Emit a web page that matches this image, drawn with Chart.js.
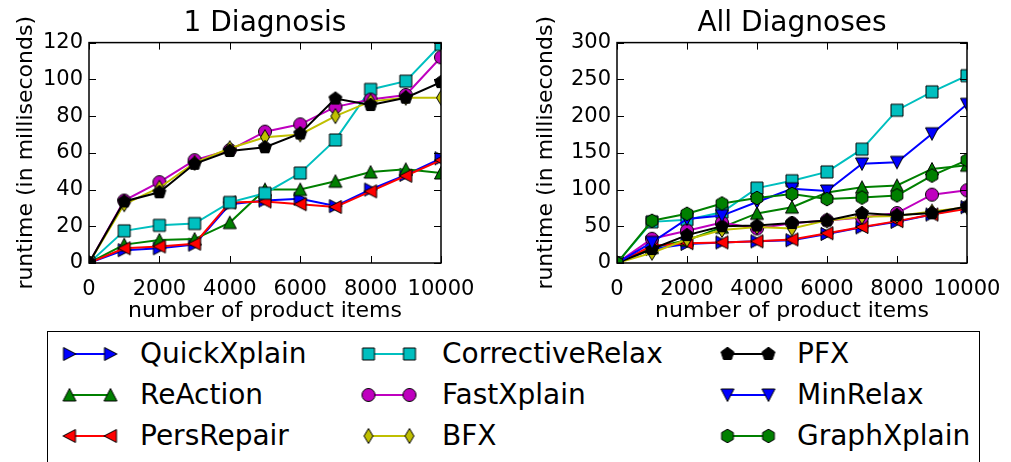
<!DOCTYPE html>
<html>
<head>
<meta charset="utf-8">
<script src="https://cdn.jsdelivr.net/npm/chart.js@4/dist/chart.umd.min.js"></script>
<style>
body { margin:0; background:#fff; width:1011px; height:462px; overflow:hidden; position:relative; font-family:'DejaVu Sans', sans-serif; }
canvas.plot { position:absolute; top:0; }
#legendBox { position:absolute; left:47px; top:331px; width:933px; height:140px; border:1.5px solid #000; box-sizing:border-box; }
.lgMark { position:absolute; }
.lgText { position:absolute; font-size:28px; line-height:32px; white-space:nowrap; color:#000; }
</style>
</head>
<body>
<canvas id="diagOne" class="plot" width="495" height="330" style="left:0"></canvas>
<canvas id="diagAll" class="plot" width="506" height="330" style="left:505px"></canvas>
<div id="legendBox"></div>
<script>
// number of product items
var xValues = [0, 1000, 2000, 3000, 4000, 5000, 6000, 7000, 8000, 9000, 10000];

// 1 Diagnosis (ms)
var oneQuickXplain     = [0, 7, 8, 10, 32, 34, 35, 31, 40, 48, 57];
var oneReAction        = [0, 10, 12.5, 13, 22, 40, 40, 44.5, 49.5, 51, 49];
var onePersRepair      = [0, 8, 9, 10.5, 33, 33.5, 32, 30.5, 39, 47.5, 56];
var oneCorrectiveRelax = [0, 17.5, 20.5, 21.5, 33, 38, 49, 67, 94.5, 99, 119];
var oneFastXplain      = [0, 34, 44, 56, 61.5, 71.5, 75.5, 85, 89, 91.5, 112];
var oneBFX             = [0, 32, 41, 54.5, 62.5, 68.5, 70, 80, 88, 90, 90];
var onePFX             = [0, 33.5, 38.5, 54, 61, 63, 70.5, 89.5, 86, 90, 98.5];

// All Diagnoses (ms)
var allQuickXplain     = [0, 19, 26, 28, 29.5, 31, 39.5, 48.5, 56, 66, 76];
var allReAction        = [0, 21, 31, 48.5, 67.5, 76, 96, 103, 105.5, 128, 133];
var allPersRepair      = [0, 23.5, 27, 28, 29.5, 32, 40.5, 49, 57, 66, 74];
var allCorrectiveRelax = [0, 56, 59, 69, 102, 112, 124, 155, 208, 233, 255];
var allFastXplain      = [0, 33, 44, 55, 47, 54, 58, 62, 68, 93, 99];
var allBFX             = [0, 14, 32, 45, 49, 47, 58, 63, 64, 70, 76];
var allPFX             = [0, 19, 38, 50, 51, 54.5, 58, 68, 65, 68, 77];
var allMinRelax        = [0, 28, 60, 64.5, 83, 101, 98, 135, 137, 176, 216];
var allGraphXplain     = [0, 57.5, 67, 81, 88.5, 94, 87, 89, 92, 119, 140];

var yTicksOne = [0, 120, 20];   // min, max, step
var yTicksAll = [0, 300, 50];
var xTicks = [0, 10000, 2000];

var series = [
    {name: 'QuickXplain',     color: '#0000ff', marker: 'triRight',    one: oneQuickXplain,     all: allQuickXplain},
    {name: 'ReAction',        color: '#008000', marker: 'triUp',       one: oneReAction,        all: allReAction},
    {name: 'PersRepair',      color: '#ff0000', marker: 'triLeft',     one: onePersRepair,      all: allPersRepair},
    {name: 'CorrectiveRelax', color: '#00bfbf', marker: 'square',      one: oneCorrectiveRelax, all: allCorrectiveRelax},
    {name: 'FastXplain',      color: '#bf00bf', marker: 'circle',      one: oneFastXplain,      all: allFastXplain},
    {name: 'BFX',             color: '#bfbf00', marker: 'thinDiamond', one: oneBFX,             all: allBFX},
    {name: 'PFX',             color: '#000000', marker: 'pentagon',    one: onePFX,             all: allPFX},
    {name: 'MinRelax',        color: '#0000ff', marker: 'triDown',     one: null,               all: allMinRelax},
    {name: 'GraphXplain',     color: '#008000', marker: 'hexagon',     one: null,               all: allGraphXplain}
];

Chart.defaults.font.family = "'DejaVu Sans', sans-serif";
Chart.defaults.color = '#000';

function markerPath(ctx, shape, cx, cy) {
    var i, a;
    ctx.beginPath();
    if (shape == 'square') {
        ctx.rect(cx - 6, cy - 6, 12, 12);
    } else if (shape == 'circle') {
        ctx.arc(cx, cy, 6.5, 0, Math.PI * 2);
    } else if (shape == 'triUp') {
        ctx.moveTo(cx, cy - 6.5); ctx.lineTo(cx - 6.5, cy + 6); ctx.lineTo(cx + 6.5, cy + 6);
    } else if (shape == 'triDown') {
        ctx.moveTo(cx, cy + 6.5); ctx.lineTo(cx - 6.5, cy - 6); ctx.lineTo(cx + 6.5, cy - 6);
    } else if (shape == 'triRight') {
        ctx.moveTo(cx + 6.5, cy); ctx.lineTo(cx - 6, cy - 6.5); ctx.lineTo(cx - 6, cy + 6.5);
    } else if (shape == 'triLeft') {
        ctx.moveTo(cx - 6.5, cy); ctx.lineTo(cx + 6, cy - 6.5); ctx.lineTo(cx + 6, cy + 6.5);
    } else if (shape == 'thinDiamond') {
        ctx.moveTo(cx, cy - 7.5); ctx.lineTo(cx + 4.5, cy); ctx.lineTo(cx, cy + 7.5); ctx.lineTo(cx - 4.5, cy);
    } else if (shape == 'pentagon' || shape == 'hexagon') {
        var n = shape == 'pentagon' ? 5 : 6;
        for (i = 0; i < n; i++) {
            a = -Math.PI / 2 + i * 2 * Math.PI / n;
            if (i == 0) ctx.moveTo(cx + 6.8 * Math.cos(a), cy + 6.8 * Math.sin(a));
            else ctx.lineTo(cx + 6.8 * Math.cos(a), cy + 6.8 * Math.sin(a));
        }
    }
    ctx.closePath();
}

function makeMarker(shape, color) {
    var c = document.createElement('canvas');
    c.width = 18; c.height = 18;
    var ctx = c.getContext('2d');
    markerPath(ctx, shape, 9, 9);
    ctx.fillStyle = color;
    ctx.fill();
    ctx.lineWidth = 1;
    ctx.strokeStyle = '#000';
    ctx.stroke();
    return c;
}

series.forEach(function (s) { s.img = makeMarker(s.marker, s.color); });

// matplotlib-like frame with inward ticks on all four sides
var frameTicks = {
    id: 'frameTicks',
    afterDraw: function (chart) {
        var ctx = chart.ctx, a = chart.chartArea;
        var xs = chart.scales.x, ys = chart.scales.y;
        ctx.save();
        ctx.strokeStyle = '#000';
        ctx.lineWidth = 1;
        ctx.beginPath();
        xs.ticks.forEach(function (t) {
            var px = Math.round(xs.getPixelForValue(t.value)) + 0.5;
            ctx.moveTo(px, a.bottom); ctx.lineTo(px, a.bottom - 7);
            ctx.moveTo(px, a.top); ctx.lineTo(px, a.top + 7);
        });
        ys.ticks.forEach(function (t) {
            var py = Math.round(ys.getPixelForValue(t.value)) + 0.5;
            ctx.moveTo(a.left, py); ctx.lineTo(a.left + 7, py);
            ctx.moveTo(a.right, py); ctx.lineTo(a.right - 7, py);
        });
        ctx.stroke();
        ctx.lineWidth = 1.5;
        ctx.strokeRect(a.left, a.top, a.right - a.left, a.bottom - a.top);
        ctx.restore();
    }
};

function buildDatasets(key) {
    var sets = [];
    series.forEach(function (s, i) {
        var vals = s[key];
        if (!vals) return;
        sets.push({
            label: s.name,
            data: xValues.map(function (x, j) { return {x: x, y: vals[j]}; }),
            borderColor: s.color,
            backgroundColor: s.color,
            borderWidth: 2,
            pointStyle: s.img,
            pointRadius: 7,
            pointHoverRadius: 7,
            tension: 0,
            clip: 0,
            order: series.length - i
        });
    });
    return sets;
}

function makeChart(id, key, title, yt, axisWidth, titlePad, rightPad) {
    var ctx = document.getElementById(id).getContext('2d');
    return new Chart(ctx, {
        type: 'line',
        data: {datasets: buildDatasets(key)},
        plugins: [frameTicks],
        options: {
            responsive: false,
            animation: false,
            layout: {padding: {left: 0, right: rightPad, top: 0, bottom: 0}},
            plugins: {
                legend: {display: false},
                tooltip: {enabled: false},
                title: {
                    display: true, text: title, fullSize: false,
                    font: {size: 28, weight: 'normal'}, color: '#000',
                    padding: {top: 7, bottom: 2}
                }
            },
            scales: {
                x: {
                    type: 'linear', min: xTicks[0], max: xTicks[1],
                    ticks: {stepSize: xTicks[2], padding: 14, font: {size: 21}, color: '#000',
                        maxRotation: 0, autoSkip: false,
                        callback: function (v) { return String(v); }},
                    grid: {display: false, drawTicks: false},
                    border: {display: false},
                    title: {display: true, text: 'number of product items', font: {size: 22}, color: '#000', padding: {bottom: 6}},
                    afterFit: function (s) { s.height = 67; s.paddingLeft = 0; s.paddingRight = 0; }
                },
                y: {
                    type: 'linear', min: yt[0], max: yt[1],
                    ticks: {stepSize: yt[2], padding: 6, font: {size: 21}, color: '#000',
                        callback: function (v) { return String(v); }},
                    grid: {display: false, drawTicks: false},
                    border: {display: false},
                    title: {display: true, text: 'runtime (in milliseconds)', font: {size: 22}, color: '#000', padding: {top: titlePad}},
                    afterFit: function (s) { s.width = axisWidth; s.paddingTop = 0; s.paddingBottom = 0; }
                }
            }
        }
    });
}

makeChart('diagOne', 'one', '1 Diagnosis', yTicksOne, 89, 13, 495 - 441);
makeChart('diagAll', 'all', 'All Diagnoses', yTicksAll, 112, 28, 506 - 462);

// shared legend, three columns
var colMark = [57.5, 356.5, 715.5];
var colText = [140, 442, 797];
var rowMid = [354, 395, 436];
series.forEach(function (s, i) {
    var col = Math.floor(i / 3), row = i % 3;
    var c = document.createElement('canvas');
    c.width = 64; c.height = 22;
    c.className = 'lgMark';
    c.style.left = colMark[col] + 'px';
    c.style.top = (rowMid[row] - 11) + 'px';
    var ctx = c.getContext('2d');
    ctx.strokeStyle = s.color;
    ctx.lineWidth = 2;
    ctx.beginPath();
    ctx.moveTo(11.5, 11); ctx.lineTo(52.5, 11);
    ctx.stroke();
    ctx.drawImage(s.img, 11.5 - 9, 2);
    ctx.drawImage(s.img, 52.5 - 9, 2);
    document.body.appendChild(c);
    var t = document.createElement('span');
    t.className = 'lgText';
    t.textContent = s.name;
    t.style.left = colText[col] + 'px';
    t.style.top = (rowMid[row] - 16) + 'px';
    document.body.appendChild(t);
});
</script>
</body>
</html>
